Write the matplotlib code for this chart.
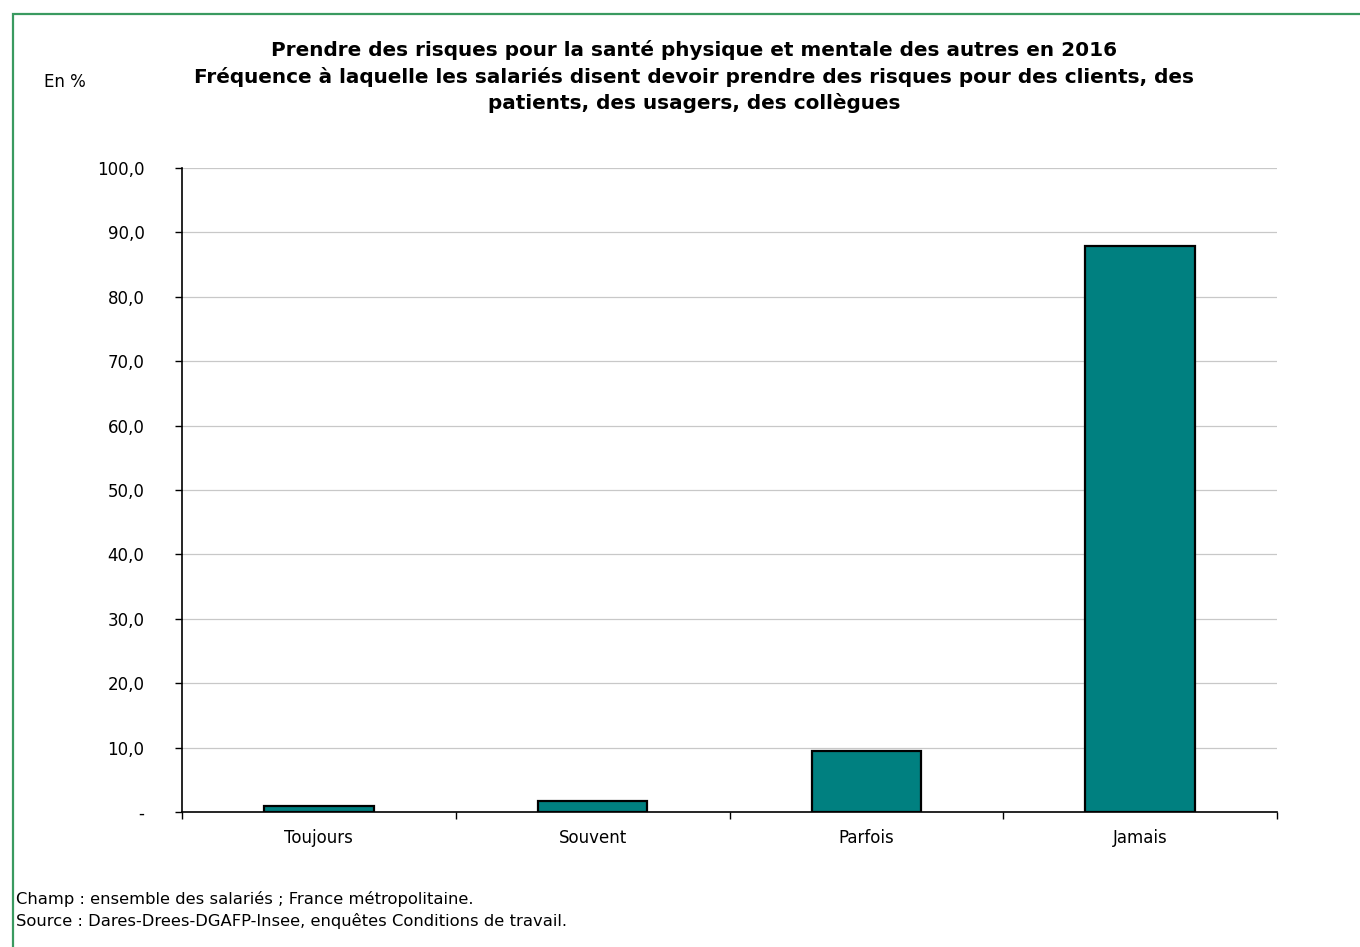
import matplotlib.pyplot as plt
from matplotlib.patches import Rectangle
from matplotlib.ticker import FuncFormatter, FixedLocator

categories = ["Toujours", "Souvent", "Parfois", "Jamais"]
values = [0.9, 1.7, 9.5, 87.9]
y_ticks = [0, 10, 20, 30, 40, 50, 60, 70, 80, 90, 100]

title = ("Prendre des risques pour la santé physique et mentale des autres en 2016\n"
         "Fréquence à laquelle les salariés disent devoir prendre des risques pour des clients, des\n"
         "patients, des usagers, des collègues")
notes = ["Champ : ensemble des salariés ; France métropolitaine.",
         "Source : Dares-Drees-DGAFP-Insee, enquêtes Conditions de travail."]

W, H = 1360, 947
plt.rcParams["font.family"] = "DejaVu Sans"
fig = plt.figure(figsize=(W / 100, H / 100), dpi=100)

# green frame
fig.patches.append(Rectangle((13 / W, -0.05), 1.2, 1 - 14 / H + 0.05,
                             transform=fig.transFigure, fill=False,
                             edgecolor="#3a9a60", lw=1.6))

ax = fig.add_axes([182 / W, 1 - 812 / H, (1277 - 182) / W, (812 - 168) / H])
x = range(len(categories))
ax.bar(x, values, width=0.4, color="#008080", edgecolor="black", lw=1.6, zorder=3)
ax.set_xlim(-0.5, len(categories) - 0.5)
ax.set_ylim(0, 100)

ax.set_yticks(y_ticks)
ax.yaxis.set_major_formatter(FuncFormatter(
    lambda v, p: "-" if v == 0 else f"{v:.1f}".replace(".", ",")))
ax.set_xticks(list(x))
ax.set_xticklabels(categories)
ax.xaxis.set_minor_locator(FixedLocator([i - 0.5 for i in range(len(categories) + 1)]))
ax.tick_params(axis="x", which="major", length=0, pad=12, labelsize=12)
ax.tick_params(axis="x", which="minor", length=5, width=1, direction="out")
ax.tick_params(axis="y", length=5, width=1, direction="out", pad=22, labelsize=12)
for t in ax.get_yticklabels():
    t.set_horizontalalignment("right")

ax.grid(axis="y", color="#c8c8c8", lw=0.9, zorder=0)
ax.yaxis.get_gridlines()[0].set_visible(False)
for s in ("top", "right"):
    ax.spines[s].set_visible(False)
for s in ("left", "bottom"):
    ax.spines[s].set_linewidth(1.2)
    ax.spines[s].set_zorder(4)

fig.text(694 / W, 1 - 40 / H, title, ha="center", va="top", fontsize=14.4,
         fontweight="bold", linespacing=1.42)
fig.text(44 / W, 1 - 82 / H, "En %", ha="left", va="center", fontsize=12)
fig.text(16 / W, 1 - 899 / H, notes[0], ha="left", va="center", fontsize=11.8)
fig.text(16 / W, 1 - 921 / H, notes[1], ha="left", va="center", fontsize=11.8)

fig.savefig("out.png", dpi=100)
